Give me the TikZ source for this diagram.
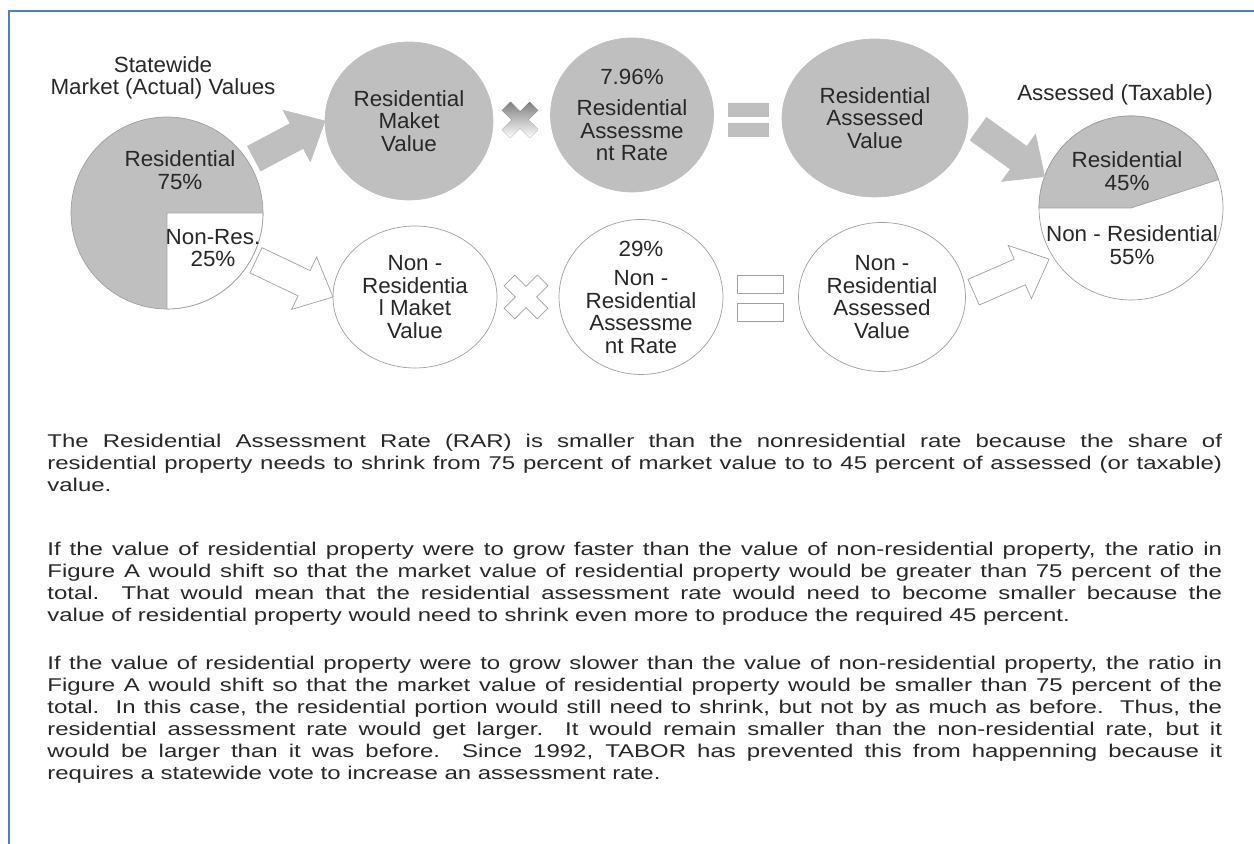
\documentclass[tikz,border=0pt]{standalone}
\usepackage{fontspec}
\setmainfont{Liberation Sans}
\newfontfamily\diagfont{Liberation Sans}[FakeStretch=1.02]
\newfontfamily\bodyfont{Liberation Sans}[FakeStretch=1.3]
\usetikzlibrary{shapes.geometric,calc}
\definecolor{frameblue}{RGB}{79,129,189}
\definecolor{shade}{RGB}{191,191,191}
\definecolor{rim}{RGB}{160,160,160}
\definecolor{ink}{RGB}{40,40,40}
\tikzset{
x=0.02cm,
y=0.02cm,
line width=0.8pt,
lbl/.style={align=center,text=ink,inner sep=0pt,font=\diagfont\fontsize{12.5}{12.8}\selectfont},
full/.style={ellipse,lbl,fill=shade,draw=shade,inner xsep=0pt,inner ysep=-10pt,outer sep=0pt},
hollow/.style={ellipse,lbl,fill=white,draw=rim,inner xsep=0pt,inner ysep=-10pt,outer sep=0pt},
pie/.style={circle,draw=rim,inner sep=0pt,outer sep=0pt},
solidarrow/.style={fill=shade,draw=shade},
openarrow/.style={fill=white,draw=rim}
}
% fat arrow: #1 style, #2 tail, #3 tip
\newcommand\blockarrow[3]{%
  \coordinate (neck) at ($(#3)!0.64cm!(#2)$);
  \filldraw[#1] ($(#2)!0.28cm!90:(#3)$) -- ($(neck)!0.28cm!90:(#3)$)
    -- ($(neck)!0.58cm!90:(#3)$) -- (#3) -- ($(neck)!0.58cm!-90:(#3)$)
    -- ($(neck)!0.28cm!-90:(#3)$) -- ($(#2)!0.28cm!-90:(#3)$) -- cycle;}

\begin{document}
\begin{tikzpicture}
\useasboundingbox (0,0) rectangle (1254,844);
\draw[frameblue,line width=1.2pt] (9,0) -- (9,833) -- (1254,833);

% market value pie
\node[pie,minimum size=3.84cm,fill=shade] (pieL) at (167,631) {};
\filldraw[fill=white,draw=rim] (pieL.center) -- (pieL.south) arc[start angle=-90,end angle=0,radius=1.92cm] -- cycle;
\node[lbl] (mktTitle) at (163,766) {Statewide\\Market (Actual) Values};
\node[lbl] (resShare) at (180,674) {Residential\\75\%};
\node[lbl] (nonShare) at (213,596) {Non-Res.\\25\%};

% assessed value pie
\node[pie,minimum size=3.68cm,fill=white] (pieR) at (1131,636) {};
\filldraw[fill=shade,draw=rim] (pieR.center) -- (pieR.18) arc[start angle=18,end angle=180,radius=1.84cm] -- cycle;
\node[lbl] (taxTitle) at (1115,749) {Assessed (Taxable)};
\node[lbl] (resTax) at (1127,673) {Residential\\45\%};
\node[lbl] (nonTax) at (1132,599) {Non - Residential\\55\%};

% residential row
\node[full,minimum width=3.36cm,minimum height=3.16cm] (resMV) at (409,723) {Residential\\Maket\\Value};
\node[full,minimum width=3.26cm,minimum height=3.08cm] (resRate) at (632,729) {7.96\%\\[5pt]Residential\\Assessme\\nt Rate};
\node[full,minimum width=3.72cm,minimum height=3.16cm] (resAV) at (875,726) {Residential\\Assessed\\Value};
\fill[shade,shift={(520,724)},rotate=45] (6,19.5) -- (6,6) -- (19.5,6) -- (19.5,-6) -- (6,-6) -- (6,-19.5)
  -- (-6,-19.5) -- (-6,-6) -- (-19.5,-6) -- (-19.5,6) -- (-6,6) -- (-6,19.5) -- cycle;
\filldraw[solidarrow] (728,741) rectangle (768,728) (728,721) rectangle (768,708);

% non-residential row
\node[hollow,minimum width=3.28cm,minimum height=2.84cm] (nrMV) at (415,547) {Non -\\Residentia\\l Maket\\Value};
\node[hollow,minimum width=3.28cm,minimum height=3.10cm] (nrRate) at (641,547) {29\%\\[4pt]Non -\\Residential\\Assessme\\nt Rate};
\node[hollow,minimum width=3.34cm,minimum height=2.98cm] (nrAV) at (882,547) {Non -\\Residential\\Assessed\\Value};
\filldraw[openarrow,shift={(526,547)},rotate=45] (7.5,23.5) -- (7.5,7.5) -- (23.5,7.5) -- (23.5,-7.5) -- (7.5,-7.5) -- (7.5,-23.5)
  -- (-7.5,-23.5) -- (-7.5,-7.5) -- (-23.5,-7.5) -- (-23.5,7.5) -- (-7.5,7.5) -- (-7.5,23.5) -- cycle;
\filldraw[openarrow] (737,569) rectangle (783,551) (737,541) rectangle (783,523);

% arrows
\coordinate (t1) at ($(pieL.center)!1.07!(pieL.32)$);
\coordinate (t2) at ($(pieL.center)!1.05!(pieL.-28)$);
\coordinate (t3) at ($(resAV.center)!1.12!(resAV.-6)$);
\coordinate (t4) at ($(nrAV.center)!1.1!(nrAV.3)$);
\coordinate (h4) at ($(pieR.center)!1.05!(pieR.212)$);
\blockarrow{solidarrow}{t1}{resMV.west}
\blockarrow{openarrow}{t2}{nrMV.west}
\blockarrow{solidarrow}{t3}{pieR.160}
\blockarrow{openarrow}{t4}{h4}

% explanation
\node[anchor=north west,text width=23.5cm,align=justify,inner sep=0pt,text=ink,
  font=\bodyfont\fontsize{10.5}{12.5}\selectfont] (notes) at (47,410) {%
\parindent=0pt\hyphenpenalty=10000\exhyphenpenalty=10000\emergencystretch=3em
The Residential Assessment Rate (RAR) is smaller than the nonresidential rate because the share of\linebreak
residential property needs to shrink from 75 percent of market value to to 45 percent of assessed (or taxable)\linebreak
value.\par\vspace{24pt}
If the value of residential property were to grow faster than the value of non-residential property, the ratio in\linebreak
Figure A would shift so that the market value of residential property would be greater than 75 percent of the\linebreak
total.\ \ That would mean that the residential assessment rate would need to become smaller because the\linebreak
value of residential property would need to shrink even more to produce the required 45 percent.\par\vspace{15pt}
If the value of residential property were to grow slower than the value of non-residential property, the ratio in\linebreak
Figure A would shift so that the market value of residential property would be smaller than 75 percent of the\linebreak
total.\ \ In this case, the residential portion would still need to shrink, but not by as much as before.\ \ Thus, the\linebreak
residential assessment rate would get larger.\ \ It would remain smaller than the non-residential rate, but it\linebreak
would be larger than it was before.\ \ Since 1992, TABOR has prevented this from happenning because it\linebreak
requires a statewide vote to increase an assessment rate.};
\end{tikzpicture}
\end{document}
